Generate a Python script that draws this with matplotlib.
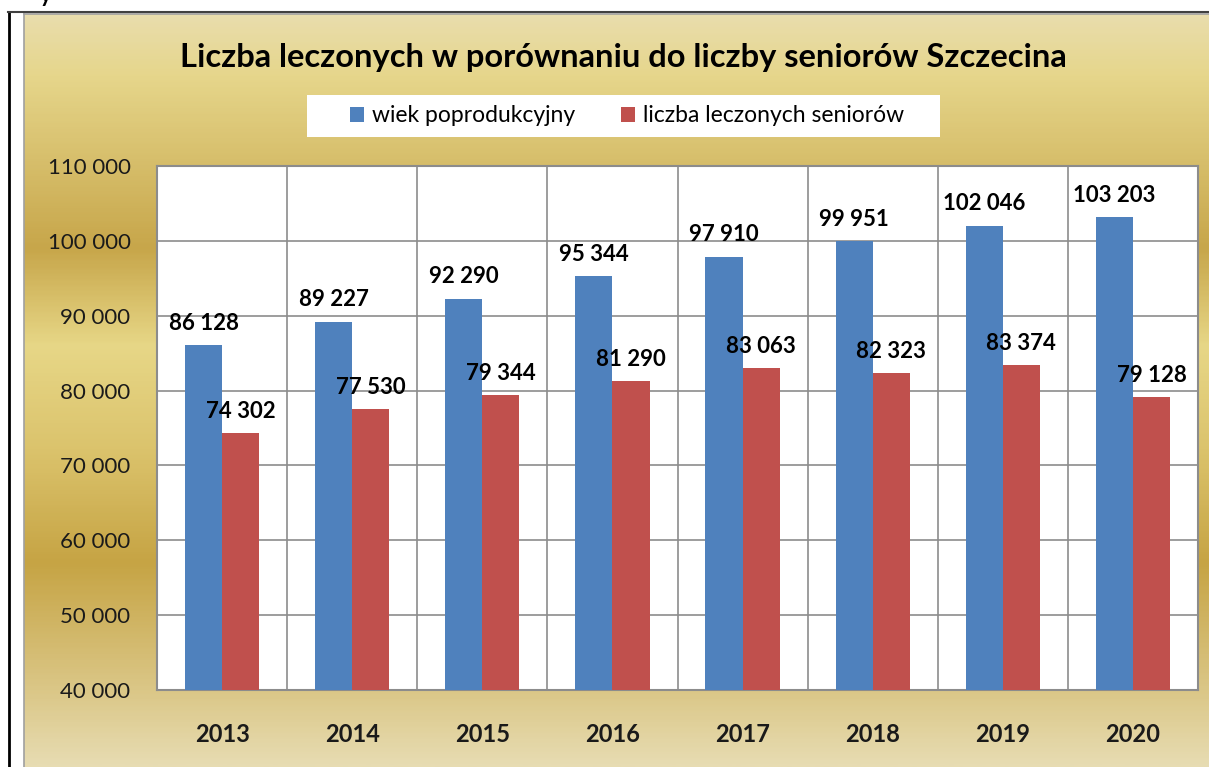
import matplotlib

matplotlib.use("Agg")
import matplotlib.pyplot as plt
import numpy as np
from matplotlib.colors import LinearSegmentedColormap
from matplotlib.patches import Patch, Rectangle

years = ["2013", "2014", "2015", "2016", "2017", "2018", "2019", "2020"]
wiek_poprodukcyjny = [86128, 89227, 92290, 95344, 97910, 99951, 102046, 103203]
leczeni_seniorzy = [74302, 77530, 79344, 81290, 83063, 82323, 83374, 79128]
series_names = ["wiek poprodukcyjny", "liczba leczonych seniorów"]
y_ticks = [40000, 50000, 60000, 70000, 80000, 90000, 100000, 110000]
title = "Liczba leczonych w porównaniu do liczby seniorów Szczecina"

BLUE = "#4f81bd"
RED = "#c0504d"
GRID = "#8c8c8c"
W, H = 1209, 767

plt.rcParams["font.family"] = ["Lato", "DejaVu Sans"]


def fmt(v):
    return f"{v:,}".replace(",", " ")


def fx(px):
    return px / W


def fy(px):
    return 1 - px / H


fig = plt.figure(figsize=(W / 100, H / 100), dpi=100)
fig.patch.set_facecolor("white")

# gold gradient panel
bg = fig.add_axes([0, 0, 1, 1], zorder=0)
bg.set_xlim(0, W)
bg.set_ylim(H, 0)
bg.axis("off")
stops = [
    (0.00, "#e9ddac"),
    (0.08, "#e6d68b"),
    (0.31, "#c7a64a"),
    (0.44, "#e7d787"),
    (0.58, "#dbc36c"),
    (0.73, "#c6a444"),
    (0.91, "#dcc98b"),
    (1.00, "#e7dcb2"),
]
gold = LinearSegmentedColormap.from_list("gold", stops)
grad = np.linspace(0, 1, 400).reshape(-1, 1)
bg.imshow(grad, cmap=gold, aspect="auto", extent=[24, W, H, 14], zorder=0)
bg.plot([24, 24], [14, H], color="#a0a0a0", lw=1.2, zorder=1)
bg.plot([24, W], [14, 14], color="#a0a0a0", lw=1.2, zorder=1)
# outer frame lines
bg.plot([9, 9], [12, H], color="black", lw=2, zorder=2)
bg.plot([8, W], [12, 12], color="#404040", lw=1.5, zorder=2)
# descender of a caption letter cut by the top edge
bg.text(46, -4, "y", fontsize=16, fontweight="bold", ha="center", va="center",
        color="black", zorder=2)
# legend box
bg.add_patch(Rectangle((307, 95), 633, 42, facecolor="white", edgecolor="none", zorder=1))

ax = fig.add_axes([fx(157), fy(690), fx(1198 - 157), (690 - 166) / H], zorder=2)
ax.set_facecolor("white")
x = np.arange(len(years))
bw = 0.285
b1 = ax.bar(x - bw / 2, wiek_poprodukcyjny, bw, color=BLUE, zorder=3)
b2 = ax.bar(x + bw / 2, leczeni_seniorzy, bw, color=RED, zorder=3)

for bars, vals in ((b1, wiek_poprodukcyjny), (b2, leczeni_seniorzy)):
    for r, v in zip(bars, vals):
        ax.annotate(fmt(v), (r.get_x() + r.get_width() / 2, v), xytext=(0, 8),
                    textcoords="offset points", ha="center", va="bottom",
                    fontsize=16, fontweight="bold", color="black", zorder=4)

ax.set_xlim(-0.5, len(years) - 0.5)
ax.set_ylim(y_ticks[0], y_ticks[-1])
ax.set_yticks(y_ticks)
ax.set_yticklabels([fmt(t) for t in y_ticks], fontsize=16, color="#1a1a1a")
ax.set_xticks(x)
ax.set_xticklabels(years, fontsize=17, fontweight="bold", color="#1a1a1a")
ax.set_xticks(np.arange(len(years) + 1) - 0.5, minor=True)
ax.tick_params(axis="both", which="both", length=0)
ax.tick_params(axis="y", pad=19)
ax.tick_params(axis="x", pad=24)
ax.grid(axis="y", which="major", color=GRID, lw=1.2, zorder=1)
ax.grid(axis="x", which="minor", color=GRID, lw=1.2, zorder=1)
for s in ax.spines.values():
    s.set_color(GRID)
    s.set_linewidth(1.5)

fig.text(fx(623), fy(57), title, fontsize=23.5, fontweight="bold", ha="center",
         va="center", color="black")

handles = [Patch(facecolor=BLUE), Patch(facecolor=RED)]
fig.legend(handles, series_names, loc="center", bbox_to_anchor=(fx(627), fy(116)),
           ncol=2, frameon=False, fontsize=16.5, handlelength=0.6, handleheight=0.6,
           handletextpad=0.35, columnspacing=2.0)

fig.savefig("out.png", dpi=100)
